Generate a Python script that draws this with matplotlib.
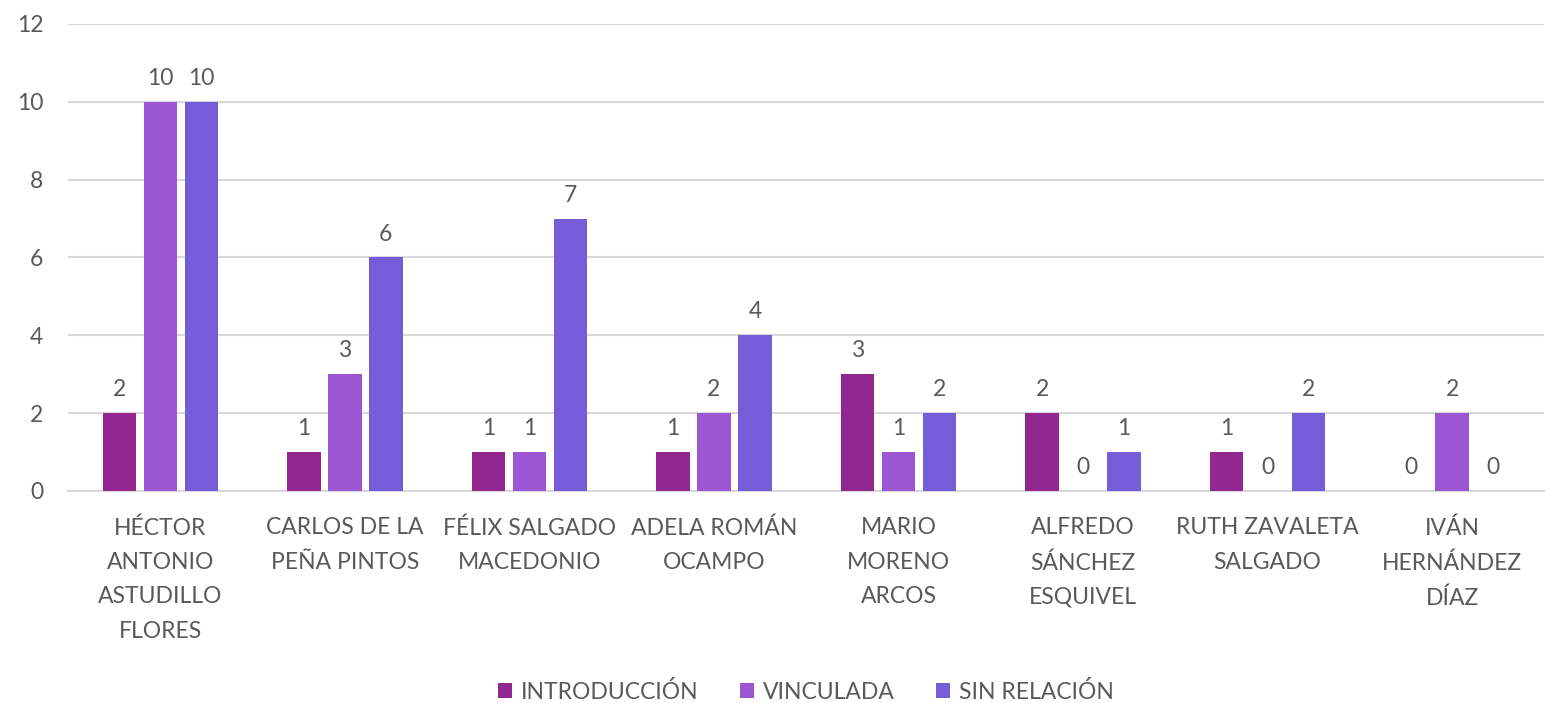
import numpy as np
import matplotlib
matplotlib.use("Agg")
import matplotlib.pyplot as plt

plt.rcParams['font.family'] = ['Lato', 'DejaVu Sans']

names = ['HÉCTOR\nANTONIO\nASTUDILLO\nFLORES', 'CARLOS DE LA\nPEÑA PINTOS',
         'FÉLIX SALGADO\nMACEDONIO', 'ADELA ROMÁN\nOCAMPO', 'MARIO\nMORENO\nARCOS',
         'ALFREDO\nSÁNCHEZ\nESQUIVEL', 'RUTH ZAVALETA\nSALGADO', 'IVÁN\nHERNÁNDEZ\nDÍAZ']
series = ['INTRODUCCIÓN', 'VINCULADA', 'SIN RELACIÓN']
introduccion = [2, 1, 1, 1, 3, 2, 1, 0]
vinculada = [10, 3, 1, 2, 1, 0, 0, 2]
sin_relacion = [10, 6, 7, 4, 2, 1, 2, 0]
colors = ['#92278F', '#9B57D3', '#755DD9']

text_col = '#595959'
fs = 16.5
fig = plt.figure(figsize=(15.49, 7.03), dpi=100)
ax = fig.add_axes([0.044, 0.3016, 0.953, 0.6644])

x = np.arange(len(names))
step = 0.222
w = 0.18
for i, (vals, c, lab) in enumerate(zip([introduccion, vinculada, sin_relacion], colors, series)):
    pos = x + (i - 1) * step
    ax.bar(pos, vals, width=w, color=c, label=lab, zorder=3)
    for p, v in zip(pos, vals):
        ax.text(p, v + 0.33, str(v), ha='center', va='bottom', fontsize=fs, color=text_col)

ax.set_ylim(0, 12)
ax.set_xlim(-0.5, len(names) - 0.5)
ax.set_yticks(range(0, 13, 2))
ax.yaxis.grid(True, color='#D9D9D9', linewidth=1.5, zorder=0)
for s in ['top', 'right', 'left']:
    ax.spines[s].set_visible(False)
ax.spines['bottom'].set_color('#D9D9D9')
ax.spines['bottom'].set_linewidth(1.5)
ax.tick_params(axis='both', length=0, labelsize=fs, colors=text_col)
ax.tick_params(axis='y', pad=18)
ax.tick_params(axis='x', pad=19)
ax.set_xticks(x)
ax.set_xticklabels(names, linespacing=1.78)

ax.legend(loc='center', bbox_to_anchor=(0.5, -0.43), ncol=3, frameon=False,
          fontsize=fs, handlelength=0.6, handleheight=0.6, columnspacing=1.8,
          handletextpad=0.4, labelcolor=text_col)

fig.savefig('out.png', dpi=100)
